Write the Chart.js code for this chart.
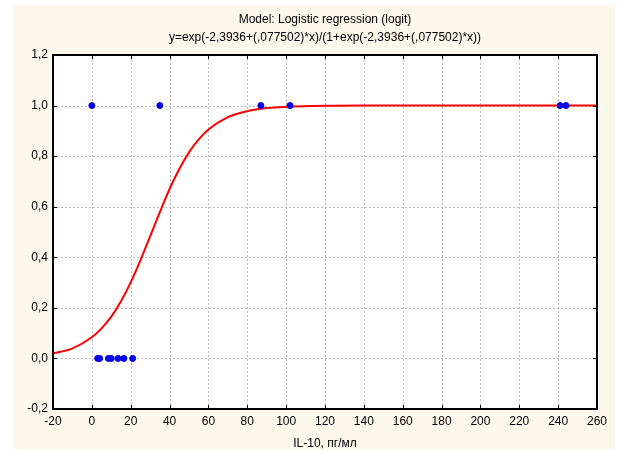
<!DOCTYPE html>
<html>
<head>
<meta charset="utf-8">
<script src="https://cdn.jsdelivr.net/npm/chart.js@4/dist/chart.umd.min.js"></script>
<style>
	html, body { margin: 0; padding: 0; background: #ffffff; }
	#wrap { width: 621px; height: 452px; }
</style>
</head>
<body>
<div id="wrap"><canvas id="logit-chart" width="621" height="452"></canvas></div>

<script>

	// observed cases (IL-10, outcome)
	var obsX = [0, 35, 87, 102, 241, 244, 3, 4, 8.5, 10, 13.5, 16.5, 21];
	var obsY = [1, 1, 1, 1, 1, 1, 0, 0, 0, 0, 0, 0, 0];

	// fitted curve
	var fitX = [-20, -10, 0, 5, 10, 15, 20, 25, 30, 35, 40, 45, 50, 55, 60, 70, 80, 90, 100, 120, 140, 160, 200, 260];
	var fitY = [0.019, 0.040, 0.084, 0.119, 0.165, 0.226, 0.301, 0.388, 0.483, 0.579, 0.670, 0.749, 0.815, 0.866, 0.905, 0.954, 0.978, 0.990, 0.995, 0.999, 1.0, 1.0, 1.0, 1.0];

	var titleLines = ['Model: Logistic regression (logit)', 'y=exp(-2,3936+(,077502)*x)/(1+exp(-2,3936+(,077502)*x))'];
	var xTitle = 'IL-10, пг/мл';

	function pairs(xs, ys) {
		var out = [];
		for (var i = 0; i < xs.length; i++) out.push({ x: xs[i], y: ys[i] });
		return out;
	}

	function comma(v, digits) {
		var r = Math.round(v * 10) / 10;
		if (r === 0) r = 0;
		return r.toFixed(digits).replace('.', ',');
	}

	var font = { family: 'Arial, "Liberation Sans", sans-serif', size: 12 };

	// cream panel, title over the plot, dotted grid, frame and inward tick marks
	var statisticaFrame = {
		id: 'statisticaFrame',
		beforeDraw: function (chart) {
			var ctx = chart.ctx, a = chart.chartArea;
			ctx.save();
			ctx.fillStyle = '#fdf8ec';
			ctx.fillRect(13, 5, 602, 444);
			ctx.fillStyle = '#ffffff';
			ctx.fillRect(a.left, a.top, a.right - a.left, a.bottom - a.top);

			ctx.fillStyle = '#000000';
			ctx.font = '12px ' + font.family;
			ctx.textAlign = 'center';
			ctx.textBaseline = 'middle';
			var cx = (a.left + a.right) / 2;
			titleLines.forEach(function (line, i) {
				ctx.fillText(line, cx, 20 + i * 18);
			});
			ctx.restore();
		},
		beforeDatasetsDraw: function (chart) {
			var ctx = chart.ctx, a = chart.chartArea;
			var xs = chart.scales.x, ys = chart.scales.y;
			ctx.save();
			ctx.strokeStyle = '#bdbdbd';
			ctx.lineWidth = 1;
			ctx.setLineDash([2, 2]);
			ctx.beginPath();
			xs.ticks.forEach(function (t) {
				var px = Math.round(xs.getPixelForValue(t.value)) + 0.5;
				ctx.moveTo(px, a.top); ctx.lineTo(px, a.bottom);
			});
			ys.ticks.forEach(function (t) {
				var py = Math.round(ys.getPixelForValue(t.value)) + 0.5;
				ctx.moveTo(a.left, py); ctx.lineTo(a.right, py);
			});
			ctx.stroke();
			ctx.restore();
		},
		afterDatasetsDraw: function (chart) {
			var ctx = chart.ctx, a = chart.chartArea;
			var xs = chart.scales.x, ys = chart.scales.y;
			ctx.save();
			ctx.strokeStyle = '#000000';
			ctx.lineWidth = 1;
			ctx.beginPath();
			xs.ticks.forEach(function (t) {
				var px = Math.round(xs.getPixelForValue(t.value)) + 0.5;
				ctx.moveTo(px, a.top); ctx.lineTo(px, a.top + 4);
				ctx.moveTo(px, a.bottom); ctx.lineTo(px, a.bottom - 4);
			});
			ys.ticks.forEach(function (t) {
				var py = Math.round(ys.getPixelForValue(t.value)) + 0.5;
				ctx.moveTo(a.left, py); ctx.lineTo(a.left + 4, py);
				ctx.moveTo(a.right, py); ctx.lineTo(a.right - 4, py);
			});
			ctx.stroke();
			ctx.lineWidth = 2;
			ctx.strokeRect(a.left, a.top, a.right - a.left, a.bottom - a.top);
			ctx.restore();
		}
	};

	new Chart(document.getElementById('logit-chart'), {
		type: 'scatter',
		data: {
			datasets: [
				{
					label: 'fit',
					data: pairs(fitX, fitY),
					showLine: true,
					borderColor: '#ff0000',
					borderWidth: 2,
					pointRadius: 0,
					cubicInterpolationMode: 'monotone',
					order: 2
				},
				{
					label: 'observed',
					data: pairs(obsX, obsY),
					backgroundColor: '#0000ff',
					borderColor: '#0000cc',
					borderWidth: 1,
					pointRadius: 3,
					order: 1
				}
			]
		},
		options: {
			responsive: false,
			animation: false,
			layout: { padding: { left: 0, right: 24, top: 55, bottom: 0 } },
			plugins: {
				legend: { display: false },
				tooltip: { enabled: false },
				title: { display: false }
			},
			scales: {
				x: {
					type: 'linear',
					min: -20,
					max: 260,
					afterFit: function (s) { s.height = 43; },
					ticks: {
						stepSize: 20,
						color: '#000000',
						font: font,
						padding: 5,
						maxRotation: 0,
						callback: function (v) { return String(v); }
					},
					grid: { display: false, drawTicks: false },
					border: { display: false },
					title: { display: true, text: xTitle, color: '#000000', font: font, padding: { top: 4, bottom: 1 } }
				},
				y: {
					min: -0.2,
					max: 1.2,
					afterFit: function (s) { s.width = 53; },
					ticks: {
						stepSize: 0.2,
						color: '#000000',
						font: font,
						padding: 5,
						callback: function (v) { return comma(v, 1); }
					},
					grid: { display: false, drawTicks: false },
					border: { display: false }
				}
			}
		},
		plugins: [statisticaFrame]
	});

</script>
</body>
</html>
